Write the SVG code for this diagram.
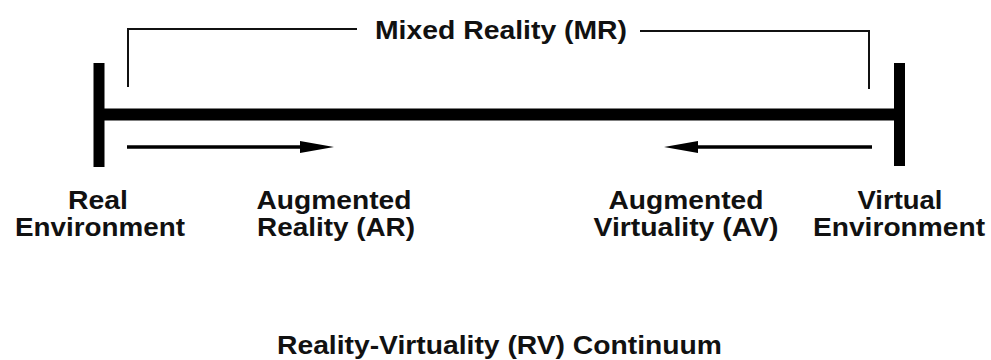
<svg xmlns="http://www.w3.org/2000/svg" width="991" height="360" viewBox="0 0 991 360">
<style>
  text { font-family: "Liberation Sans", Arial, Helvetica, sans-serif; font-weight: bold; fill: #111; text-anchor: middle; }
  .lbl { font-size: 25px; }
  .ttl { font-size: 26px; }
  .bar { stroke: #000; stroke-width: 11; fill: none; }
  .brk { stroke: #111; stroke-width: 2; fill: none; }
  .arr { stroke: #000; stroke-width: 3.5; fill: none; }
  .head { fill: #000; }
</style>
<rect width="991" height="360" fill="#fff"/>
<g id="continuum">
  <line class="bar" x1="99" y1="114.5" x2="900" y2="114.5" style="stroke-width:12"/>
  <line class="bar" x1="99" y1="63" x2="99" y2="167"/>
  <line class="bar" x1="899.5" y1="63" x2="899.5" y2="166"/>
</g>
<g id="connectors">
  <polyline class="brk" points="128,87 128,29 357,29"/>
  <polyline class="brk" points="640,31 869,31 869,89"/>
  <line class="arr" x1="127" y1="147" x2="302" y2="147"/>
  <polygon class="head" points="300,141 334,147 300,153"/>
  <line class="arr" x1="872" y1="147" x2="696" y2="147"/>
  <polygon class="head" points="698,141 664,147 698,153"/>
</g>
<g id="mr-label">
  <text class="ttl" x="501" y="39" textLength="252" lengthAdjust="spacingAndGlyphs">Mixed Reality (MR)</text>
</g>
<g id="real-env">
  <text class="lbl" x="98" y="209" textLength="60" lengthAdjust="spacingAndGlyphs">Real</text>
  <text class="lbl" x="100" y="236" textLength="170" lengthAdjust="spacingAndGlyphs">Environment</text>
</g>
<g id="ar">
  <text class="lbl" x="334" y="209" textLength="155" lengthAdjust="spacingAndGlyphs">Augmented</text>
  <text class="lbl" x="336" y="236" textLength="158" lengthAdjust="spacingAndGlyphs">Reality (AR)</text>
</g>
<g id="av">
  <text class="lbl" x="686" y="209" textLength="155" lengthAdjust="spacingAndGlyphs">Augmented</text>
  <text class="lbl" x="686" y="236" textLength="185" lengthAdjust="spacingAndGlyphs">Virtuality (AV)</text>
</g>
<g id="virtual-env">
  <text class="lbl" x="900" y="209" textLength="85" lengthAdjust="spacingAndGlyphs">Virtual</text>
  <text class="lbl" x="899" y="236" textLength="172" lengthAdjust="spacingAndGlyphs">Environment</text>
</g>
<g id="title">
  <text class="ttl" x="499.5" y="354" textLength="445" lengthAdjust="spacingAndGlyphs">Reality-Virtuality (RV) Continuum</text>
</g>
</svg>
